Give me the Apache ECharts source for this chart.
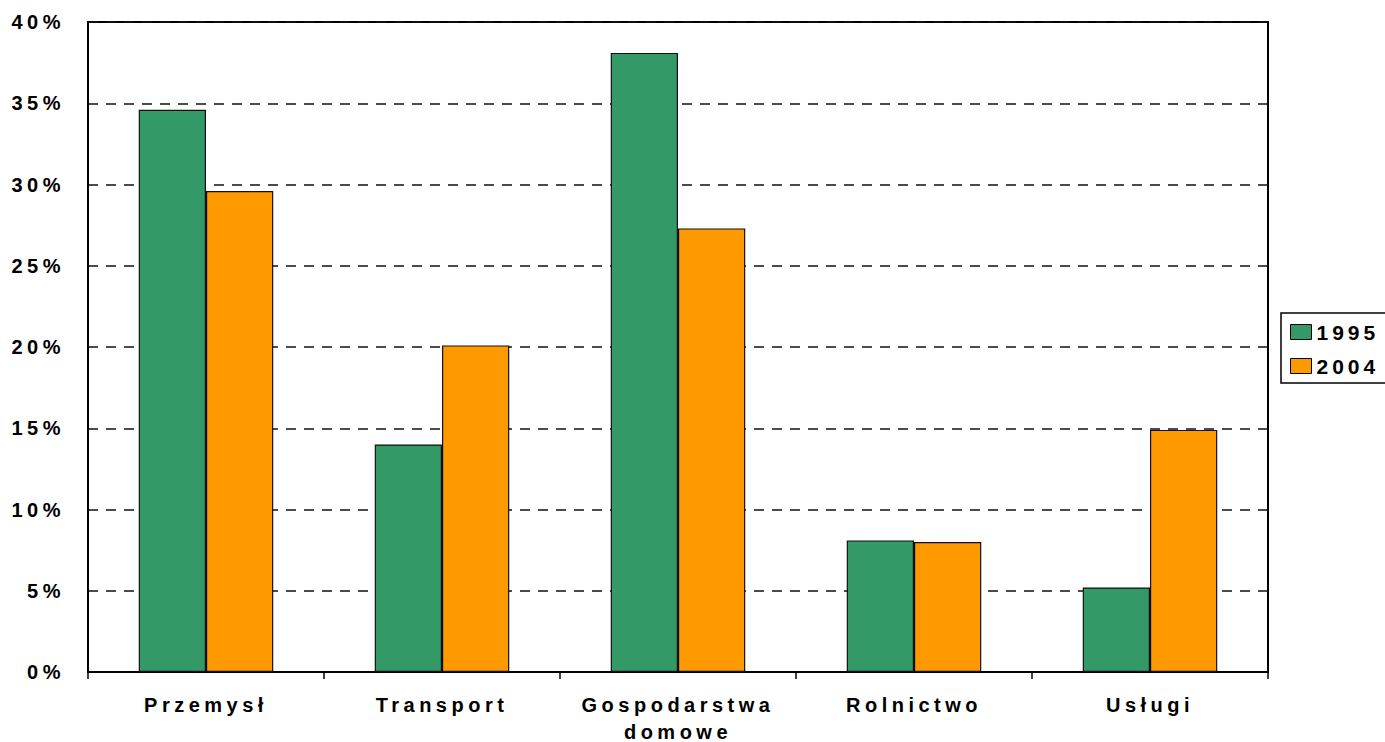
<!DOCTYPE html>
<html>
<head>
<meta charset="utf-8">
<script src="https://cdn.jsdelivr.net/npm/echarts@6/dist/echarts.min.js"></script>
<style>
  html, body { margin: 0; padding: 0; background: #fff; }
  #chart { width: 1385px; height: 742px; }
  /* spaced-out lettering for all chart text */
  #chart text { letter-spacing: 4.5px; }
  #chart text.legend-txt { letter-spacing: 4px; }
</style>
</head>
<body>
<div id="chart"></div>
<script>
// Energy consumption share by sector, 1995 vs 2004
const categories = ['Przemysł', 'Transport', 'Gospodarstwa\ndomowe', 'Rolnictwo', 'Usługi'];
const seriesNames = ['1995', '2004'];
const values1995 = [34.6, 14.0, 38.1, 8.1, 5.2];
const values2004 = [29.6, 20.1, 27.3, 8.0, 14.9];
const yTicks = [0, 5, 10, 15, 20, 25, 30, 35, 40];

const FONT = '"Liberation Sans", Arial, sans-serif';
const GREEN = '#339966';
const ORANGE = '#FF9900';

const chart = echarts.init(document.getElementById('chart'), null, { renderer: 'svg' });

chart.setOption({
  animation: false,
  backgroundColor: '#fff',
  grid: {
    left: 88, top: 22, width: 1180, height: 650,
    outerBoundsMode: 'none', containLabel: false,
    show: true, borderColor: '#000', borderWidth: 2, backgroundColor: 'transparent'
  },
  legend: {
    orient: 'vertical',
    left: 1281, top: 313,
    data: seriesNames,
    icon: 'rect',
    itemWidth: 21, itemHeight: 15, itemGap: 12,
    padding: [8, 40, 6, 9],
    backgroundColor: '#fff',
    borderColor: '#000', borderWidth: 1.5,
    itemStyle: { borderColor: '#000', borderWidth: 1 },
    textStyle: { fontFamily: FONT, fontWeight: 'bold', fontSize: 21, lineHeight: 22, color: '#000' }
  },
  xAxis: {
    type: 'category',
    data: categories,
    axisLine: { lineStyle: { color: '#000', width: 2 } },
    axisTick: { show: true, length: 7, lineStyle: { color: '#000', width: 1.5 } },
    axisLabel: {
      fontFamily: FONT, fontWeight: 'bold', fontSize: 20, lineHeight: 27,
      color: '#000', margin: 19, interval: 0
    }
  },
  yAxis: {
    type: 'value',
    min: yTicks[0], max: yTicks[yTicks.length - 1], interval: 5,
    axisLine: { show: true, lineStyle: { color: '#000', width: 2 } },
    axisTick: { show: false },
    axisLabel: {
      fontFamily: FONT, fontWeight: 'bold', fontSize: 20, color: '#000', margin: 23,
      formatter: v => v + '%'
    },
    splitLine: { show: true, lineStyle: { color: '#111', width: 1.5, type: [10, 8] } }
  },
  series: [
    {
      name: seriesNames[0], type: 'bar', data: values1995,
      barGap: '0%', barCategoryGap: '43%',
      itemStyle: { color: GREEN, borderColor: '#111', borderWidth: 1.2 }
    },
    {
      name: seriesNames[1], type: 'bar', data: values2004,
      barGap: '0%', barCategoryGap: '43%',
      itemStyle: { color: ORANGE, borderColor: '#111', borderWidth: 1.2 }
    }
  ]
});

// tighter spacing for the legend labels
function tagLegendText() {
  document.querySelectorAll('#chart text').forEach(t => {
    if (seriesNames.includes(t.textContent.trim())) t.classList.add('legend-txt');
  });
}
tagLegendText();
chart.on('finished', tagLegendText);
</script>
</body>
</html>
